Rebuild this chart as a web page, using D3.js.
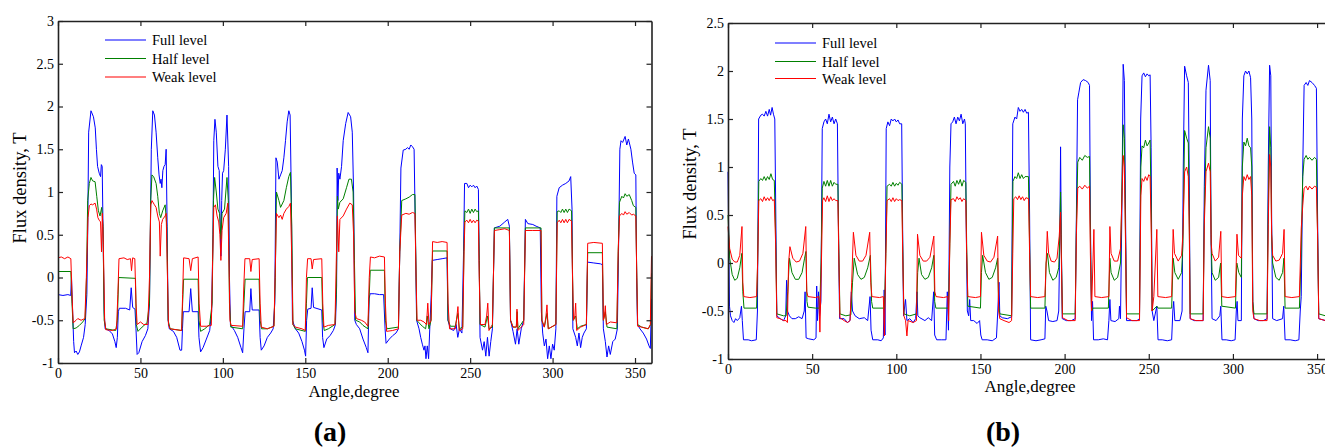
<!DOCTYPE html>
<html><head><meta charset="utf-8">
<script src="https://cdn.jsdelivr.net/npm/d3@7"></script>
<style>
html,body{margin:0;padding:0;background:#fff;overflow:hidden}
text{font-family:"Liberation Serif","Times New Roman",serif;fill:#000}
</style></head>
<body><svg id="c" width="1325" height="447"></svg>
<script>
const seriesNames = ["Full level","Half level","Weak level"];
const seriesColors = ["#0000ff","#008000","#ff0000"];
const xTicks = [0,50,100,150,200,250,300,350];
const yTicksA = [-1,-0.5,0,0.5,1,1.5,2,2.5,3];
const yTicksB = [-1,-0.5,0,0.5,1,1.5,2,2.5];

// Panel (a)
const fullA = [[0,-0.20],[3,-0.21],[6,-0.20],[7.7,-0.21],[8.2,0.0],[8.6,-0.25],[9.5,-0.75],[10,-0.88],[11,-0.86],[12,-0.9],[13,-0.87],[14,-0.8],[15.5,-0.7],[16.5,-0.55],[17.5,-0.2],[18,0.5],[18.6,1.7],[20,1.95],[21.5,1.88],[22.6,1.75],[23.3,1.5],[24,1.3],[25,1.22],[25.8,1.18],[26.3,1.32],[26.8,1.3],[27.3,0.6],[28,-0.4],[28.6,-0.6],[31,-0.62],[33,-0.66],[34.5,-0.75],[35.3,-0.82],[36,-0.7],[36.6,-0.4],[37.2,-0.36],[41,-0.36],[43.5,-0.38],[44.4,-0.12],[45.3,-0.35],[46.7,-0.37],[47.3,-0.6],[48,-0.9],[49,-0.88],[51,-0.75],[53,-0.68],[54.5,-0.6],[55.5,-0.3],[56,0.5],[56.6,1.5],[57.5,1.95],[58.5,1.9],[59.5,1.7],[60.5,1.4],[61.3,1.2],[62,1.1],[62.5,1.15],[63,1.05],[63.6,1.25],[64.3,1.3],[65,1.32],[65.6,1.5],[66.2,0.6],[66.8,-0.5],[67.5,-0.6],[70,-0.63],[72,-0.7],[74,-0.85],[75,-0.85],[75.5,-0.6],[76,-0.4],[79.5,-0.4],[80.5,-0.13],[81.5,-0.4],[85,-0.4],[85.5,-0.7],[86.5,-0.87],[88,-0.82],[90,-0.72],[92,-0.62],[93.2,-0.4],[94,0.5],[94.5,1.6],[95.2,1.85],[96,1.7],[97,1.3],[97.8,1.25],[98.4,0.6],[98.8,0.25],[99.3,0.9],[99.8,1.22],[100.5,1.25],[101.5,1.5],[102.5,1.9],[103.5,1.3],[104,0],[104.6,-0.55],[107,-0.62],[109,-0.7],[111,-0.82],[112,-0.88],[112.8,-0.6],[113.5,-0.4],[116.3,-0.4],[117,-0.13],[117.8,-0.38],[122,-0.38],[122.6,-0.7],[123.3,-0.85],[125,-0.8],[127,-0.7],[129,-0.65],[130.5,-0.6],[131.5,-0.3],[132.2,1.4],[133,1.35],[134,1.15],[135,1.2],[136,1.25],[137,1.4],[138,1.6],[139,1.82],[140,1.95],[140.8,1.9],[141.5,1.0],[142.2,-0.5],[144,-0.6],[146,-0.65],[148,-0.75],[149.5,-0.85],[150.2,-0.92],[150.8,-0.5],[151.5,-0.37],[153.5,-0.36],[154.2,-0.12],[155,-0.35],[160,-0.38],[160.5,-0.7],[161.3,-0.82],[163,-0.72],[165,-0.68],[167,-0.62],[168.3,-0.55],[169,-0.1],[169.3,1.28],[169.8,0.9],[170.3,1.22],[171,1.15],[172,1.3],[173,1.6],[174.5,1.8],[176,1.93],[177.5,1.88],[178.5,1.7],[179.3,1.0],[180,-0.5],[181,-0.55],[183,-0.6],[185,-0.72],[187,-0.82],[188,-0.88],[188.7,-0.25],[189.3,-0.19],[192,-0.19],[195,-0.2],[197.5,-0.2],[198.4,-0.6],[199,-0.77],[201,-0.72],[203,-0.68],[205,-0.65],[206.5,-0.6],[207.3,0.3],[208,1.28],[209.4,1.49],[211,1.5],[212,1.52],[213,1.5],[214,1.55],[215,1.53],[216,1.5],[216.8,0.5],[217.5,-0.5],[219,-0.6],[220,-0.7],[221,-0.78],[222,-0.85],[222.6,-0.8],[223.2,-0.95],[224,-0.8],[224.8,-0.95],[225.5,-0.6],[226.4,-0.2],[227,0.2],[230,0.21],[233,0.22],[236,0.23],[236.5,-0.5],[238,-0.6],[240,-0.62],[241.5,-0.55],[242.5,-0.7],[243.5,-0.6],[245,-0.65],[246,0.3],[246.6,1.1],[248,1.1],[249,1.05],[250,1.08],[251,1.06],[252,1.08],[253,1.05],[254,1.07],[255,1.03],[255.5,0.2],[256,-0.7],[257.5,-0.85],[258.5,-0.75],[259.5,-0.92],[260.5,-0.7],[261.5,-0.92],[262.5,-0.75],[263.5,-0.6],[264.7,0.58],[268,0.6],[271,0.65],[272.8,0.68],[273.8,0.6],[274.5,-0.5],[276,-0.63],[277.5,-0.78],[278.5,-0.6],[279.5,-0.78],[281,-0.6],[282.5,-0.5],[283.5,0.68],[285,0.63],[288,0.62],[290,0.6],[292.5,0.58],[293.2,-0.4],[294,-0.65],[295,-0.8],[296,-0.72],[297,-0.95],[298,-0.8],[299,-0.95],[300,-0.78],[301,-0.85],[302,-0.6],[302.6,0.95],[304,1.05],[306,1.08],[308,1.1],[310,1.13],[311,1.18],[311.8,0.8],[312.3,-0.6],[314,-0.7],[315,-0.8],[316,-0.65],[317,-0.82],[318,-0.7],[319,-0.65],[320.5,-0.6],[321.2,0.18],[325,0.17],[329,0.16],[330.2,0.15],[330.8,-0.6],[332,-0.75],[333,-0.93],[334,-0.8],[335,-0.9],[336.5,-0.75],[338,-0.72],[339.3,-0.6],[340,0.3],[340.8,1.5],[341.5,1.6],[342.5,1.58],[344,1.65],[345,1.55],[346,1.62],[347.5,1.5],[348.5,1.35],[349.5,1.22],[350.5,1.2],[351,0],[351.5,-0.55],[353,-0.6],[355,-0.65],[357,-0.72],[358.5,-0.8],[359.3,-0.83],[360,-0.25]];
const halfA = [[0,0.07],[7.8,0.07],[8.5,-0.3],[9.2,-0.6],[11,-0.59],[13,-0.56],[15,-0.52],[16.5,-0.48],[17.3,0],[18,0.9],[19,1.1],[20,1.17],[21,1.13],[22.5,1.12],[23.5,0.95],[24.5,0.78],[25.5,0.72],[26.5,0.82],[27.3,0.6],[28,-0.5],[29,-0.6],[35,-0.62],[36,-0.5],[36.8,0.0],[47,-0.01],[47.5,-0.55],[48.5,-0.63],[51,-0.58],[54,-0.53],[55.5,-0.3],[56.2,0.9],[57,1.2],[58,1.18],[59.5,1.1],[60.5,0.95],[61.5,0.75],[62.3,0.7],[63.5,0.78],[65,0.85],[66,0.6],[66.8,-0.5],[68,-0.6],[75,-0.62],[75.6,-0.3],[76.2,-0.02],[85,-0.02],[85.5,-0.5],[86.5,-0.63],[89,-0.6],[92,-0.55],[93.5,-0.3],[94.3,0.9],[95,1.17],[96,1.0],[97,0.8],[98,0.75],[98.8,0.45],[99.5,0.75],[101,0.8],[102.5,1.17],[103.3,0.9],[104,-0.3],[104.8,-0.58],[112,-0.6],[112.8,-0.3],[113.5,-0.02],[122,-0.02],[122.6,-0.5],[123.5,-0.6],[127,-0.6],[131,-0.57],[131.8,0.0],[132.5,1.0],[134,0.9],[135,0.82],[137,0.9],[138.5,1.05],[140,1.18],[141,1.23],[141.8,0.6],[142.5,-0.55],[144,-0.6],[150,-0.63],[150.7,-0.3],[151.3,0.0],[160,0.0],[160.6,-0.5],[161.5,-0.62],[164,-0.6],[168,-0.55],[168.8,-0.2],[169.5,0.95],[170,0.8],[171,0.88],[173,0.92],[175,1.05],[176.5,1.15],[178,1.15],[179,1.0],[179.8,0.2],[180.5,-0.5],[183,-0.52],[185,-0.56],[188,-0.6],[188.8,-0.2],[189.4,0.085],[198,0.085],[198.6,-0.5],[199.5,-0.6],[206.5,-0.58],[207.3,0.3],[208.5,0.9],[211,0.92],[213,0.94],[215,0.97],[216.5,0.97],[217,0.3],[217.6,-0.5],[219,-0.53],[221,-0.57],[223,-0.6],[224,-0.45],[225,-0.6],[226.3,-0.5],[227.2,0.31],[236,0.31],[236.6,-0.5],[238,-0.57],[241,-0.57],[242.5,-0.42],[243.5,-0.6],[245.5,-0.58],[246.3,0.4],[246.8,0.78],[248,0.76],[249,0.8],[250,0.75],[251,0.8],[252,0.76],[253,0.8],[254,0.77],[255,0.78],[255.5,0.2],[256,-0.55],[259,-0.58],[260.5,-0.45],[261.5,-0.6],[263.5,-0.58],[264.7,0.58],[273.8,0.58],[274.5,-0.5],[276,-0.58],[278,-0.58],[278.5,-0.4],[279,-0.6],[282.5,-0.5],[283.5,0.58],[293,0.58],[293.5,-0.5],[295,-0.58],[296.6,-0.42],[297.5,-0.6],[302,-0.55],[302.8,0.77],[304,0.78],[305,0.76],[306,0.8],[307,0.76],[308,0.8],[309,0.76],[310,0.8],[311.5,0.78],[312,0.2],[312.5,-0.5],[314,-0.45],[315,-0.6],[317,-0.57],[320.5,-0.55],[321.3,0.29],[330.2,0.29],[330.8,-0.5],[332,-0.4],[333,-0.58],[339,-0.6],[339.8,0.3],[340.6,0.88],[342,0.95],[343,0.93],[344,0.98],[345,0.95],[346.5,0.97],[348,0.9],[349,0.84],[350.5,0.82],[351,0.1],[351.6,-0.55],[354,-0.58],[358,-0.6],[359.5,-0.55],[360,0.05]];
const weakA = [[0,0.23],[2,0.24],[4,0.22],[6,0.24],[7.8,0.22],[8.5,-0.2],[9.2,-0.53],[11,-0.5],[12,-0.48],[14,-0.5],[16.3,-0.48],[17.2,0],[18.2,0.7],[19,0.84],[20,0.86],[21,0.85],[22.5,0.87],[23.4,0.8],[24.2,0.7],[25,0.67],[25.8,0.65],[26.4,0.3],[26.9,0.75],[27.5,0.4],[28.3,-0.5],[29,-0.61],[33,-0.62],[35.5,-0.6],[36.3,-0.2],[37,0.22],[40,0.23],[42,0.21],[44,0.22],[44.6,0.08],[45.3,0.23],[46.6,0.22],[47.3,-0.3],[48,-0.55],[50,-0.52],[52,-0.55],[54.5,-0.55],[55.5,0],[56.3,0.85],[57,0.9],[58.5,0.85],[59.5,0.82],[60.5,0.72],[61.5,0.65],[62,0.25],[62.7,0.62],[63.5,0.68],[65,0.72],[65.6,0.75],[66.2,0.2],[67,-0.55],[68,-0.6],[75,-0.62],[75.6,-0.2],[76.2,0.23],[79.5,0.22],[80.5,0.08],[81.5,0.22],[85,0.24],[85.6,-0.3],[86.5,-0.57],[90,-0.57],[93,-0.56],[93.8,0.2],[94.5,0.82],[95.5,0.85],[96.5,0.72],[97.5,0.65],[98.2,0.5],[98.8,0.2],[99.5,0.55],[100.5,0.7],[102,0.75],[103,0.87],[103.6,0.3],[104.3,-0.5],[105,-0.56],[112,-0.57],[112.7,-0.1],[113.4,0.22],[116.3,0.22],[117,0.07],[117.8,0.21],[122,0.22],[122.6,-0.3],[123.3,-0.58],[127,-0.6],[131,-0.57],[131.8,0.1],[132.5,0.75],[134,0.7],[135,0.73],[136,0.68],[137,0.75],[138.5,0.8],[140,0.83],[141,0.87],[141.7,0.3],[142.5,-0.55],[144,-0.58],[148,-0.6],[150,-0.62],[150.7,0],[151.4,0.22],[153.5,0.22],[154.2,0.1],[155,0.21],[160,0.22],[160.6,-0.3],[161.3,-0.58],[164,-0.56],[168,-0.55],[168.8,0.2],[169.5,0.72],[170.3,0.3],[171,0.68],[173,0.72],[175,0.8],[177,0.87],[178.5,0.85],[179.3,0.5],[180,-0.4],[181,-0.48],[184,-0.5],[186,-0.52],[188,-0.57],[188.8,0],[189.5,0.24],[192,0.23],[195,0.25],[198,0.24],[198.6,-0.3],[199.3,-0.63],[203,-0.62],[206.5,-0.6],[207.3,0.3],[208.5,0.73],[211,0.75],[213,0.74],[215,0.76],[216.5,0.75],[217.2,0],[217.8,-0.5],[220,-0.5],[222,-0.52],[223.5,-0.55],[224.3,-0.3],[225,-0.55],[226.3,-0.5],[227.2,0.42],[230,0.41],[233,0.42],[236,0.41],[236.6,-0.3],[237.5,-0.6],[241,-0.6],[242,-0.45],[242.6,-0.34],[243.3,-0.62],[245.5,-0.6],[246.3,0.3],[246.8,0.65],[248,0.67],[249,0.64],[250,0.68],[251,0.64],[252,0.67],[253,0.64],[254,0.67],[255,0.66],[255.5,0],[256.2,-0.55],[259,-0.55],[260,-0.45],[260.7,-0.3],[261.4,-0.62],[263.5,-0.55],[264.7,0.55],[268,0.56],[271,0.57],[273.8,0.55],[274.5,-0.5],[276,-0.58],[278,-0.58],[278.4,-0.37],[279,-0.62],[282.5,-0.55],[283.5,0.55],[288,0.55],[293,0.55],[293.5,-0.5],[295,-0.58],[296,-0.45],[296.6,-0.32],[297.3,-0.6],[302,-0.55],[302.8,0.64],[304,0.67],[305,0.64],[306,0.68],[307,0.64],[308,0.68],[309,0.64],[310,0.68],[311.5,0.66],[312,0.1],[312.7,-0.5],[313.5,-0.45],[314,-0.3],[314.6,-0.62],[317,-0.58],[320.5,-0.55],[321.3,0.4],[325,0.41],[330.2,0.4],[330.8,-0.5],[331.5,-0.45],[332,-0.33],[332.6,-0.55],[335,-0.52],[339,-0.53],[339.8,0.3],[340.6,0.72],[342,0.75],[343,0.73],[344,0.77],[345,0.74],[346.5,0.76],[348,0.73],[349,0.74],[350.5,0.72],[351,0.1],[351.6,-0.57],[354,-0.58],[358,-0.6],[359.3,-0.55],[360,0.25]];

// Panel (b)
const fullB = [[0,0.95],[0.4,0.3],[0.9,-0.45],[1.5,-0.55],[2.5,-0.6],[3.5,-0.62],[4.5,-0.58],[5.5,-0.6],[7,-0.57],[8,-0.45],[8.5,-0.6],[9.2,-0.8],[12,-0.8],[14,-0.81],[16.8,-0.8],[17.5,-0.5],[18.2,1.5],[19.5,1.54],[20.5,1.55],[21.5,1.53],[22.5,1.58],[23.5,1.53],[24.5,1.6],[25.3,1.54],[26.2,1.62],[27,1.55],[27.8,1.5],[28.4,0.5],[29,-0.55],[31,-0.58],[33,-0.6],[34.3,-0.55],[34.8,-0.18],[35.3,-0.5],[36.5,-0.55],[38,-0.58],[40,-0.58],[42,-0.56],[44,-0.58],[45.3,-0.5],[45.8,-0.3],[46.4,-0.78],[48,-0.79],[51,-0.8],[52.3,-0.78],[52.7,-0.24],[53.2,-0.6],[53.8,-0.3],[54.4,-0.55],[55.2,-0.4],[56,1.4],[57,1.47],[58,1.5],[59,1.45],[60,1.55],[61,1.47],[62,1.52],[63,1.45],[64,1.5],[65,1.45],[65.6,0.4],[66.3,-0.58],[69,-0.58],[71,-0.62],[72.5,-0.6],[73.3,-0.3],[74,-0.5],[75.5,-0.55],[78,-0.58],[81,-0.57],[83,-0.6],[84.4,-0.35],[85,-0.7],[86,-0.8],[89,-0.8],[91,-0.81],[92.3,-0.78],[92.8,-0.28],[93.3,-0.75],[94,1.4],[95,1.47],[96,1.43],[97,1.5],[98,1.48],[99,1.5],[100,1.47],[101,1.49],[102,1.45],[103.2,1.45],[103.8,0.3],[104.3,-0.55],[105.5,-0.38],[106.3,-0.6],[108,-0.58],[110,-0.62],[111.5,-0.58],[112.3,-0.3],[112.8,-0.55],[114,-0.57],[117,-0.6],[119,-0.57],[121,-0.6],[122.2,-0.3],[122.8,-0.75],[124,-0.8],[127,-0.8],[129.5,-0.8],[130.3,-0.3],[131,-0.7],[131.8,1.0],[132.5,1.45],[133.5,1.47],[134.5,1.52],[135.5,1.45],[136.5,1.52],[137.5,1.48],[138.5,1.55],[139.5,1.45],[140.5,1.5],[141,1.45],[141.6,0.3],[142.2,-0.5],[143,-0.55],[143.6,-0.38],[144.2,-0.6],[146,-0.6],[148,-0.63],[149.5,-0.6],[150.2,-0.75],[151,-0.8],[154,-0.8],[157,-0.81],[159.5,-0.78],[160.3,-0.5],[161,-0.2],[161.5,-0.55],[163,-0.57],[166,-0.58],[168.5,-0.56],[169.2,1.45],[170.5,1.52],[171.5,1.5],[172.5,1.62],[173.5,1.58],[174.5,1.6],[175.5,1.57],[176.5,1.6],[177.5,1.56],[178.5,1.57],[179.2,0.5],[179.8,-0.8],[183,-0.81],[186,-0.8],[188.3,-0.79],[188.8,-0.45],[189.5,-0.5],[190.5,-0.6],[193,-0.61],[195.5,-0.6],[196.5,-0.5],[197.2,0.3],[197.6,1.21],[198,0.3],[198.6,-0.58],[201,-0.6],[204,-0.6],[206.3,-0.58],[207,0.5],[207.7,1.7],[208.5,1.78],[209.5,1.88],[211,1.91],[212.5,1.9],[214,1.88],[214.8,1.85],[215.3,0.5],[216,-0.6],[216.6,-0.4],[217.2,-0.8],[220,-0.8],[223,-0.79],[225.5,-0.8],[226.3,-0.6],[226.9,-0.38],[227.5,-0.6],[230,-0.61],[232.2,-0.58],[232.6,-0.45],[233.2,-0.58],[234,0.5],[234.8,2.07],[235.5,1.9],[236.2,0.5],[236.8,-0.6],[240,-0.6],[243,-0.6],[244.5,-0.58],[245.2,1.5],[246,1.95],[247,1.98],[248,1.94],[249,1.97],[250,1.95],[250.8,1.96],[251.4,1.2],[252,-0.5],[253,-0.6],[254.8,-0.45],[255.5,-0.8],[258,-0.8],[261,-0.81],[263.6,-0.8],[264.3,-0.5],[264.8,-0.4],[265.5,-0.6],[268.5,-0.6],[269.8,-0.5],[270.5,1.0],[271.3,2.05],[272.5,1.95],[273.5,1.88],[274,1.0],[274.6,-0.58],[277,-0.6],[280,-0.6],[282.3,-0.6],[283,0.8],[284,1.8],[285.5,2.06],[286.5,1.9],[287,0.3],[287.6,-0.58],[290,-0.6],[292.2,-0.55],[292.8,-0.45],[293.5,-0.8],[296,-0.8],[299,-0.81],[301.3,-0.8],[302,-0.5],[302.5,-0.4],[303,-0.6],[305,-0.6],[305.6,1.5],[306.5,1.95],[307.5,2.0],[308.5,1.97],[309.5,2.0],[310.5,1.93],[311.2,1.5],[311.8,-0.4],[312.5,-0.58],[315,-0.6],[318,-0.6],[320.3,-0.58],[321,1.0],[321.8,2.06],[322.5,1.95],[323,0.5],[323.6,-0.58],[326,-0.6],[329.5,-0.58],[330.2,-0.45],[331,-0.8],[334,-0.8],[337,-0.81],[339.2,-0.8],[340,-0.5],[340.6,-0.35],[341.5,1.0],[342.3,1.85],[343.5,1.88],[344.5,1.85],[345.5,1.9],[347,1.88],[348.5,1.85],[349.6,1.82],[350.3,0.5],[351,-0.58],[355,-0.6],[360,-0.6]];
const halfB = [[0,0.5],[0.5,0.3],[1,0.05],[2.5,-0.12],[4,-0.18],[5.5,-0.16],[7,-0.05],[8.2,0.1],[8.8,-0.3],[9.5,-0.47],[17,-0.47],[17.6,0],[18.3,0.85],[19.5,0.88],[20.5,0.86],[21.5,0.9],[22.5,0.86],[23.5,0.9],[24.5,0.87],[25.5,0.93],[26.5,0.87],[27.5,0.86],[28.3,0.3],[29,-0.53],[33,-0.55],[34.5,-0.55],[35.5,-0.3],[36.5,0.05],[38,-0.1],[40,-0.17],[42,-0.17],[44,-0.1],[45.5,0.05],[46.3,0.12],[46.9,-0.4],[47.5,-0.46],[52,-0.47],[54.5,-0.47],[55.3,0.0],[56,0.78],[57,0.85],[58,0.8],[59,0.86],[60,0.8],[61,0.86],[62,0.8],[63,0.84],[64,0.82],[65.3,0.82],[65.8,0.2],[66.5,-0.53],[70,-0.55],[73,-0.54],[74,-0.2],[75,0.05],[77,-0.12],[79,-0.17],[81,-0.15],[83,-0.05],[84.6,0.08],[85.3,-0.4],[86,-0.47],[93,-0.47],[93.8,0.1],[94.5,0.8],[96,0.82],[97,0.8],[98,0.84],[99,0.8],[100,0.83],[101,0.81],[102,0.84],[103.3,0.82],[103.8,0.2],[104.5,-0.53],[108,-0.55],[112,-0.53],[112.7,-0.1],[113.5,0.05],[115,-0.12],[117,-0.17],[119,-0.15],[121,-0.05],[122.3,0.08],[122.8,-0.4],[123.5,-0.47],[131,-0.47],[131.8,0.2],[132.5,0.82],[134,0.85],[135,0.8],[136,0.86],[137,0.82],[138,0.87],[139,0.8],[140,0.86],[141.3,0.84],[141.8,0.2],[142.5,-0.45],[150,-0.47],[150.6,-0.1],[151.3,0.08],[153,-0.1],[155,-0.17],[157,-0.15],[159,-0.05],[160.2,0.05],[160.8,-0.45],[161.5,-0.53],[168.5,-0.55],[169.3,0.85],[170.5,0.9],[171.5,0.88],[172.5,0.94],[173.5,0.88],[174.5,0.92],[175.5,0.88],[176.5,0.9],[178.5,0.9],[179.2,0.2],[179.8,-0.47],[188.3,-0.47],[189,0.0],[189.8,0.1],[191,-0.1],[193,-0.18],[195,-0.15],[196.5,-0.05],[197,0.2],[197.6,0.74],[198.1,0.1],[198.7,-0.53],[206.3,-0.53],[207,0.4],[207.8,1.05],[209,1.1],[210.5,1.07],[212,1.12],[213.5,1.1],[214.8,1.11],[215.3,0.3],[216,-0.5],[216.8,-0.47],[226,-0.47],[226.9,0.05],[227.6,-0.1],[229.5,-0.18],[231.5,-0.15],[233.2,0],[234.8,1.44],[235.5,1.3],[236.2,0.3],[236.8,-0.53],[244.5,-0.53],[245.3,1.0],[246,1.22],[247,1.2],[248,1.28],[249,1.22],[250,1.25],[250.8,1.28],[251.5,0.5],[252,-0.5],[254.8,-0.45],[255.5,-0.47],[263.6,-0.47],[264.5,0.05],[265.5,-0.1],[267.5,-0.17],[269.5,-0.1],[270.3,0.2],[271.3,1.38],[272.5,1.3],[273.5,1.25],[274.1,0.4],[274.6,-0.53],[282.3,-0.53],[283,0.5],[284,1.2],[285.5,1.42],[286.5,1.3],[287.1,0.2],[287.6,-0.1],[289.5,-0.18],[291.5,-0.15],[292.7,0.0],[293.4,-0.45],[301.5,-0.47],[302.3,0.0],[303.5,-0.1],[305,-0.15],[305.6,1.0],[306.5,1.26],[307.5,1.22],[308.5,1.3],[309.5,1.22],[310.5,1.2],[311.2,1.0],[311.8,-0.4],[312.5,-0.53],[320.3,-0.53],[321,0.6],[321.8,1.42],[322.5,1.2],[323,0.3],[323.6,0.0],[325.5,-0.15],[327.5,-0.18],[329.5,-0.1],[330.3,0.05],[331,-0.47],[339.5,-0.47],[340.4,0.0],[341.5,0.9],[342.3,1.08],[343.5,1.12],[344.5,1.08],[345.5,1.1],[347,1.07],[348.5,1.1],[349.6,1.08],[350.3,0.3],[351,-0.53],[355,-0.55],[360,-0.55]];
const weakB = [[0,0.38],[1,0.15],[2.5,0.04],[4,0.01],[5.5,0.01],[7,0.08],[8.3,0.38],[8.8,-0.2],[9.4,-0.35],[13,-0.36],[17,-0.35],[17.6,0],[18.3,0.65],[19.5,0.67],[20.5,0.64],[21.5,0.69],[22.5,0.65],[23.5,0.68],[24.5,0.65],[25.5,0.69],[26.5,0.65],[27.5,0.66],[28.3,0.2],[29,-0.57],[31,-0.58],[33,-0.6],[34.5,-0.6],[35.3,-0.62],[36,0.0],[36.8,0.17],[38.5,0.05],[40.5,0.01],[42.5,0.02],[44.5,0.1],[46.2,0.38],[46.8,-0.3],[47.5,-0.35],[52,-0.36],[54,-0.35],[54.6,-0.72],[55.5,0.0],[56.2,0.65],[57,0.68],[58,0.64],[59,0.7],[60,0.64],[61,0.69],[62,0.65],[63,0.67],[64,0.65],[65.3,0.65],[65.8,0.1],[66.5,-0.57],[69,-0.6],[71,-0.62],[72.5,-0.6],[73.5,-0.2],[74.5,0.32],[76,0.08],[78,0.02],[80,0.02],[82,0.08],[84.2,0.32],[84.8,-0.2],[85.5,-0.35],[90,-0.36],[92.3,-0.35],[92.9,-0.76],[93.8,0.1],[94.5,0.65],[96,0.67],[97,0.64],[98,0.68],[99,0.64],[100,0.67],[101,0.65],[102,0.66],[103.3,0.65],[103.8,0.1],[104.5,-0.55],[105.5,-0.6],[106.3,-0.76],[107,-0.6],[110,-0.62],[112,-0.6],[112.6,0.3],[114,0.08],[116,0.02],[118,0.02],[120,0.06],[122.3,0.28],[122.9,-0.3],[123.6,-0.35],[128,-0.36],[130.6,-0.35],[131.1,-0.6],[131.8,0.2],[132.5,0.66],[134,0.67],[135,0.64],[136,0.69],[137,0.66],[138,0.68],[139,0.64],[140,0.67],[141.3,0.65],[141.8,0.1],[142.5,-0.35],[147,-0.36],[150,-0.35],[150.6,0.32],[152,0.08],[154,0.02],[156,0.01],[158,0.06],[160.2,0.28],[160.8,-0.5],[161.5,-0.58],[164,-0.6],[167,-0.62],[168.5,-0.6],[169.2,0.1],[169.8,0.67],[171,0.69],[172,0.66],[173,0.7],[174,0.66],[175,0.69],[176,0.65],[177,0.68],[178.6,0.67],[179.2,0.1],[179.8,-0.35],[184,-0.36],[188.3,-0.35],[189.7,0.33],[190.5,0.1],[192,0.02],[194,0.01],[195.5,0.05],[196.8,0.28],[197.6,0.53],[198.1,0],[198.7,-0.57],[202,-0.6],[206.3,-0.6],[207,0.3],[207.8,0.78],[209,0.8],[210.5,0.77],[212,0.81],[213.5,0.78],[214.8,0.8],[215.3,0.1],[216,-0.5],[217.4,0.35],[218,-0.35],[222,-0.36],[226.3,-0.35],[226.9,0.38],[227.6,0.1],[229.5,0.02],[231.5,0.02],[233.2,0.15],[234.8,1.12],[235.5,1.0],[236.2,0.2],[236.8,-0.57],[240,-0.6],[244.5,-0.6],[245.3,0.7],[246,0.88],[247,0.85],[248,0.9],[249,0.86],[250,0.92],[250.8,0.9],[251.5,0.3],[252,-0.5],[253,-0.35],[254.8,0.35],[255.4,-0.35],[260,-0.36],[263.6,-0.35],[264.5,0.35],[265.3,0.1],[267.5,0.02],[269.5,0.08],[270.3,0.3],[271.3,0.95],[272.5,1.0],[273.5,0.9],[274.1,0.3],[274.6,-0.58],[278,-0.6],[282.3,-0.6],[283,0.4],[284,0.95],[285.5,1.04],[286.5,0.95],[287.1,0.2],[287.6,0.1],[289.5,0.02],[291.5,0.06],[292.8,0.33],[293.4,-0.35],[297,-0.36],[301.5,-0.35],[302.4,0.3],[303.3,0.08],[305,0.05],[305.6,0.7],[306.5,0.9],[307.5,0.86],[308.5,0.92],[309.5,0.87],[310.5,0.9],[311.2,0.7],[311.8,-0.5],[312.5,-0.58],[316,-0.6],[320.3,-0.6],[321,0.4],[321.8,1.13],[322.5,1.0],[323,0.3],[323.6,0.08],[325.5,0.02],[327.5,0.03],[329.5,0.1],[330.4,0.35],[331,-0.35],[335,-0.36],[339.5,-0.35],[340.6,0.36],[341.5,0.6],[342.3,0.78],[343.5,0.8],[344.5,0.76],[345.5,0.8],[347,0.77],[348.5,0.8],[349.6,0.79],[350.3,0.3],[351,-0.58],[355,-0.6],[360,-0.6]];

const svg = d3.select("#c");

function panel(cfg){
  const x = d3.scaleLinear().domain([0,360]).range([cfg.x0, cfg.x1]);
  const y = d3.scaleLinear().domain(cfg.yDomain).range([cfg.y1, cfg.y0]);
  const g = svg.append("g");
  const fmt = d => String(d);
  const line = d3.line().x(d=>x(d[0])).y(d=>y(d[1]));
  cfg.series.forEach((s,i)=>{
    g.append("path").attr("d", line(s)).attr("fill","none")
     .attr("stroke", seriesColors[i]).attr("stroke-width",1).attr("stroke-linejoin","round");
  });
  const axStyle = sel => {
    sel.selectAll("path.domain").attr("stroke","#222").attr("stroke-width",1.6);
    sel.selectAll(".tick line").attr("stroke","#222").attr("stroke-width",1.2);
    sel.selectAll(".tick text").style("font-family","'Liberation Serif',serif").style("font-size","14px").attr("fill","#000");
  };
  g.append("g").attr("transform",`translate(0,${cfg.y1})`)
    .call(d3.axisBottom(x).tickValues(xTicks).tickSize(-5).tickSizeOuter(0).tickPadding(5).tickFormat(fmt)).call(axStyle);
  g.append("g").attr("transform",`translate(0,${cfg.y0})`)
    .call(d3.axisTop(x).tickValues(xTicks).tickSize(-5).tickSizeOuter(0).tickFormat("")).call(axStyle);
  g.append("g").attr("transform",`translate(${cfg.x0},0)`)
    .call(d3.axisLeft(y).tickValues(cfg.yTicks).tickSize(-5).tickSizeOuter(0).tickPadding(4).tickFormat(fmt)).call(axStyle);
  g.append("g").attr("transform",`translate(${cfg.x1},0)`)
    .call(d3.axisRight(y).tickValues(cfg.yTicks).tickSize(-5).tickSizeOuter(0).tickFormat("")).call(axStyle);
  g.append("text").attr("x", cfg.xLabelX).attr("y", cfg.xLabelY).attr("text-anchor","middle")
    .style("font-size","17px").text("Angle,degree");
  g.append("text").attr("transform",`translate(${cfg.yLabelX},${cfg.yLabelY}) rotate(-90)`).attr("text-anchor","middle")
    .style("font-size","18.5px").text("Flux density, T");
  g.append("text").attr("x", cfg.tagX).attr("y", 441).attr("text-anchor","middle")
    .style("font-size","28px").style("font-weight","bold").text(cfg.tag);
  seriesNames.forEach((n,i)=>{
    const ly = cfg.legY[i];
    g.append("line").attr("x1",cfg.legX).attr("x2",cfg.legX+41).attr("y1",ly).attr("y2",ly)
      .attr("stroke",seriesColors[i]).attr("stroke-width",1.2);
    g.append("text").attr("x",cfg.legX+47).attr("y",ly+5).style("font-size","14.5px").text(n);
  });
}

panel({x0:58, x1:651.5, y0:21, y1:363, yDomain:[-1,3], yTicks:yTicksA,
  series:[fullA,halfA,weakA], xLabelX:354, xLabelY:397, yLabelX:26, yLabelY:188,
  tag:"(a)", tagX:330, legX:105, legY:[40,58.5,77]});
panel({x0:728, x1:1333.9, y0:23, y1:359, yDomain:[-1,2.5], yTicks:yTicksB,
  series:[fullB,halfB,weakB], xLabelX:1030, xLabelY:392, yLabelX:696, yLabelY:184,
  tag:"(b)", tagX:1003, legX:775, legY:[43,61.5,78.5]});
</script></body></html>
